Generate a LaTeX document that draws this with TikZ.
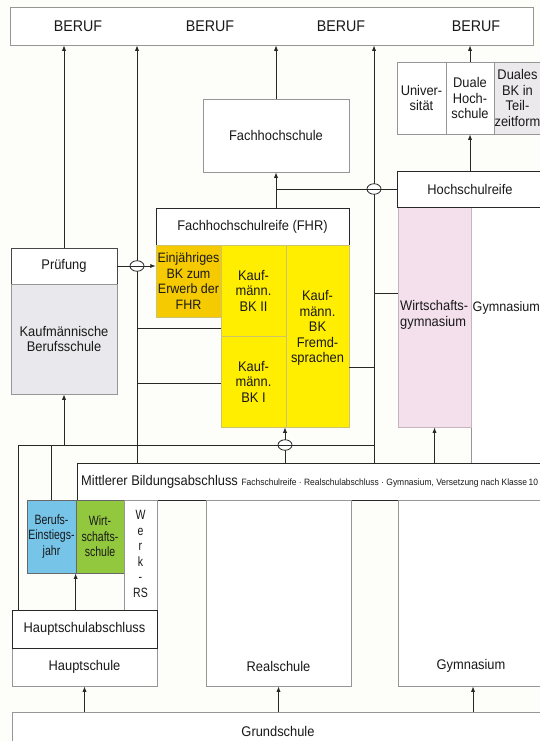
\documentclass[tikz,border=0pt]{standalone}
\usepackage{fontspec}
\setmainfont{Liberation Sans}[FakeStretch=0.92]
\newfontfamily\narrowfont{Liberation Sans}[FakeStretch=0.78]
\usetikzlibrary{arrows.meta,shapes.geometric}
\definecolor{paper}{RGB}{253,253,249}
\definecolor{lgray}{RGB}{150,150,150}
\definecolor{dline}{RGB}{40,40,40}
\definecolor{ink}{RGB}{25,25,25}
\definecolor{yel}{RGB}{255,238,0}
\definecolor{gold}{RGB}{246,202,0}
\definecolor{yedge}{RGB}{205,195,110}
\definecolor{pinkf}{RGB}{243,224,236}
\definecolor{pinke}{RGB}{200,180,190}
\definecolor{kbgray}{RGB}{232,232,237}
\definecolor{dbgray}{RGB}{236,233,236}
\definecolor{bejblue}{RGB}{118,196,232}
\definecolor{wsgreen}{RGB}{146,200,62}
\newcommand\mfs{\fontsize{14}{15.5}\selectfont}
\newcommand\bfs{\fontsize{15.5}{17}\selectfont}
\newcommand\sfs{\fontsize{9.2}{11}\selectfont}
\newcommand\nfs{\narrowfont\fontsize{13.5}{15.5}\selectfont}
\begin{document}
\begin{tikzpicture}[x=1pt,y=-1pt,
  box/.style={draw=lgray, line width=0.7pt, fill=white, inner sep=0pt, align=center, font=\mfs, text=ink},
  dbox/.style={box, draw=dline, line width=0.8pt},
  cell/.style={box, draw=yedge, line width=0.5pt, fill=yel},
  txt/.style={inner sep=0pt, align=center, font=\mfs, text=ink},
  conn/.style={draw=dline, line width=0.9pt},
  arr/.style={conn, -{Latex[length=5.5pt,width=4.2pt]}},
  cross/.style={ellipse, draw=dline, fill=white, line width=0.8pt, minimum width=14pt, minimum height=10.5pt, inner sep=0pt}]
\useasboundingbox[fill=paper] (0,0) rectangle (540,741);

% top
\node[box, minimum width=523pt, minimum height=38pt] (beruf) at (271.5,26) {};
\node[txt, font=\bfs] (b1) at (78,26) {BERUF};
\node[txt, font=\bfs] (b2) at (210,26) {BERUF};
\node[txt, font=\bfs] (b3) at (341,26) {BERUF};
\node[txt, font=\bfs] (b4) at (476,26) {BERUF};

\node[box, minimum width=49pt, minimum height=72pt] (uni) at (421.5,98) {Univer-\\sität};
\node[box, minimum width=48pt, minimum height=72pt] (dhs) at (470,98) {Duale\\Hoch-\\schule};
\node[box, fill=dbgray, minimum width=47pt, minimum height=72pt] (dbk) at (517.5,98) {Duales\\BK in\\Teil-\\zeitform};

\node[box, minimum width=146pt, minimum height=73pt] (fhs) at (276,135.5) {Fachhochschule};

% gymnasium upper
\node[box, minimum width=77pt, minimum height=256pt] (gyo) at (509.5,335) {};
\node[txt, anchor=west, font=\fontsize{13.7}{15.5}\selectfont] (gyot) at (472.5,308) {Gymnasium};
\node[box, fill=pinkf, draw=pinke, minimum width=73pt, minimum height=220pt] (wgy) at (434.5,317) {};
\node[txt, anchor=west, align=left] (wgyt) at (400,315) {Wirtschafts-\\gymnasium};
\node[dbox, minimum width=146pt, minimum height=36pt] (hsr) at (470,189) {Hochschulreife};

% FHR block
\node[dbox, minimum width=193pt, minimum height=37pt] (fhr) at (252.5,226.5) {Fachhochschulreife (FHR)};
\node[cell, fill=gold, minimum width=65pt, minimum height=72pt, font=\fontsize{13.6}{15.5}\selectfont] (ebk) at (188.5,281) {Einjähriges\\BK zum\\Erwerb der\\FHR};
\node[cell, minimum width=65pt, minimum height=91pt] (bk2) at (253.5,290.5) {Kauf-\\männ.\\BK II};
\node[cell, minimum width=65pt, minimum height=91pt] (bk1) at (253.5,381.5) {Kauf-\\männ.\\BK I};
\node[cell, minimum width=63pt, minimum height=182pt] (bkf) at (317.5,336) {};
\node[txt] (bkft) at (317.5,328) {Kauf-\\männ.\\BK\\Fremd-\\sprachen};

% left
\node[dbox, draw=dline!85, minimum width=106pt, minimum height=36pt] (prf) at (64,266) {Prüfung};
\node[box, fill=kbgray, minimum width=106pt, minimum height=110pt] (kbs) at (64,339) {Kaufmännische\\Berufsschule};

% middle band
\node[dbox, minimum width=471pt, minimum height=37pt] (mba) at (312.5,481.5) {};
\node[txt, anchor=west] (mbat) at (81,482) {Mittlerer Bildungsabschluss {\sfs Fachschulreife · Realschulabschluss · Gymnasium, Versetzung nach Klasse\,10}};

\node[box, fill=bejblue, draw=dline!70, minimum width=49pt, minimum height=73pt, font=\nfs] (bej) at (51.5,536.5) {Berufs-\\Einstiegs-\\jahr};
\node[box, fill=wsgreen, draw=dline!70, minimum width=48pt, minimum height=73pt, font=\nfs] (wsc) at (100,536.5) {Wirt-\\schafts-\\schule};
\node[box, minimum width=33pt, minimum height=110pt] (wrs) at (140.5,555) {};
\node[txt, font=\nfs] (wrst) at (140.5,554) {W\\e\\r\\k\\-\\RS};

% schools
\node[box, minimum width=145pt, minimum height=38pt] (hs) at (84.5,667) {Hauptschule};
\node[dbox, minimum width=145pt, minimum height=38pt] (hsa) at (84.5,629) {Hauptschulabschluss};
\node[box, minimum width=145pt, minimum height=186pt] (rs) at (278.5,593) {};
\node[txt] (rst) at (278.5,666) {Realschule};
\node[box, minimum width=150pt, minimum height=186pt] (gy) at (473,593) {};
\node[txt] (gyt) at (471,666) {Gymnasium};
\node[box, minimum width=536pt, minimum height=60pt] (gs) at (280,742) {};
\node[txt] (gst) at (278,731) {Grundschule};

% connectors: verticals
\coordinate (c137) at (137,463);
\coordinate (c285) at (285,463);
\coordinate (c374) at (374,463);
\coordinate (busL) at (18,445);
\coordinate (busR) at (374,445);

\draw[arr] (prf.north) -- (prf.north |- beruf.south);
\draw[arr] (c137) -- (c137 |- beruf.south);
\draw[arr] (fhs.north) -- (fhs.north |- beruf.south);
\draw[arr] (c374) -- (c374 |- beruf.south);
\draw[arr] (dhs.north) -- (dhs.north |- beruf.south);
\draw[arr] (hsr.north -| dhs.south) -- (dhs.south);
\draw[arr] (fhs.south |- fhr.north) -- (fhs.south);
\draw[arr] (c285) -- (c285 |- bk1.south);
\draw[arr] (wgy.south |- mba.north) -- (wgy.south);
\draw[arr] (kbs.south |- busL) -- (kbs.south);
\draw[conn] (busL) -- (busL |- hsa.north);
\draw[conn] (bej.north) -- (bej.north |- busL);
\draw[arr] (wsc.south west |- hsa.north) -- (wsc.south west);
\draw[arr] (hs.south |- gs.north) -- (hs.south);
\draw[arr] (rs.south |- gs.north) -- (rs.south);
\draw[arr] (gy.south |- gs.north) -- (gy.south);

% crossings
\node[cross] (x1) at (c137 |- prf.east) {};
\node[cross] (x2) at (c285 |- busL) {};
\node[cross] (x3) at (c374 |- hsr.west) {};

% horizontals
\draw[conn] (busL) -- (busR);
\draw[arr] (prf.east) -- (prf.east -| ebk.west);
\draw[conn] (hsr.west) -- (hsr.west -| fhs.south);
\coordinate (j2) at (137,328);
\coordinate (j3) at (137,383);
\coordinate (j5) at (374,367);
\coordinate (j6) at (374,293);
\draw[conn] (j2) -- (j2 -| bk2.west);
\draw[conn] (j3) -- (j3 -| bk1.west);
\draw[conn] (j5 -| bkf.east) -- (j5);
\draw[conn] (j6) -- (j6 -| wgy.west);
\end{tikzpicture}
\end{document}
